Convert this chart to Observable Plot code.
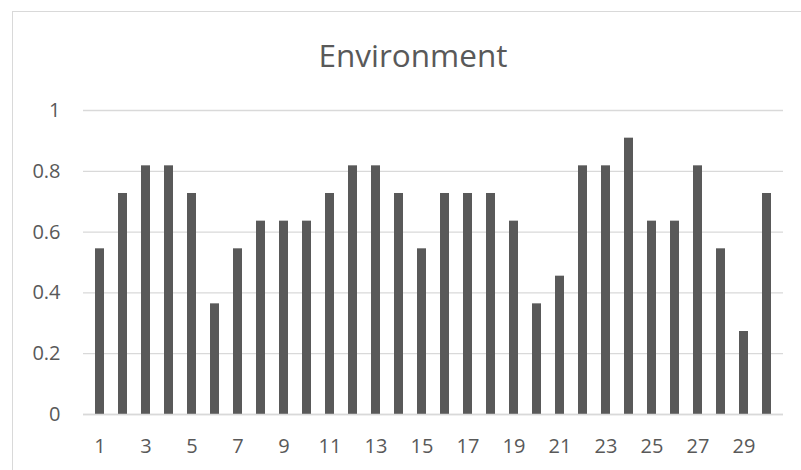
<!DOCTYPE html>
<html>
<head>
<meta charset="utf-8">
<script src="https://cdn.jsdelivr.net/npm/d3@7"></script>
<script src="https://cdn.jsdelivr.net/npm/@observablehq/plot@0.6"></script>
<style>
  html, body { margin: 0; padding: 0; background: #fff; overflow: hidden; }
  #wrap { position: relative; width: 801px; height: 470px; }
  #frame { position: absolute; left: 12px; top: 11px; width: 820px; height: 480px; border: 1.5px solid #d9d9d9; box-sizing: border-box; }
  #title { position: absolute; left: 13px; width: 800px; top: 33px; text-align: center; font-family: "Open Sans", sans-serif; font-size: 31.5px; color: #595959; }
  #chart { position: absolute; left: 0; top: 0; }
</style>
</head>
<body>
<div id="wrap">
  <div id="frame"></div>
  <div id="title">Environment</div>
  <div id="chart"></div>
</div>
<script>
const categories = d3.range(1, 31);
const values = [0.545, 0.727, 0.818, 0.818, 0.727, 0.364, 0.545, 0.636, 0.636, 0.636,
                0.727, 0.818, 0.818, 0.727, 0.545, 0.727, 0.727, 0.727, 0.636, 0.364,
                0.455, 0.818, 0.818, 0.909, 0.636, 0.636, 0.818, 0.545, 0.273, 0.727];
const yTicks = [0, 0.2, 0.4, 0.6, 0.8, 1];
const xTickLabels = categories.filter(d => d % 2 === 1);

const data = categories.map((c, i) => ({cat: c, value: values[i]}));

const plot = Plot.plot({
  width: 801,
  height: 470,
  marginLeft: 83,
  marginRight: 18,
  marginTop: 110,
  marginBottom: 56,
  style: {fontFamily: "'Open Sans', sans-serif", color: "#595959", background: "transparent"},
  x: {type: "band", domain: categories, paddingInner: 0.63, paddingOuter: 0.315, label: null, axis: null},
  y: {domain: [0, 1], label: null, axis: null},
  marks: [
    Plot.gridY(yTicks, {stroke: "#d9d9d9", strokeOpacity: 1, strokeWidth: 1.3}),
    Plot.barY(data, {x: "cat", y: "value", fill: "#595959"}),
    Plot.ruleY([0], {stroke: "#d9d9d9", strokeWidth: 1.3}),
    Plot.text(yTicks, {y: d => d, text: d => String(d), frameAnchor: "left", textAnchor: "end", dx: -23, fontSize: 20, fill: "#595959"}),
    Plot.text(xTickLabels, {x: d => d, text: d => String(d), frameAnchor: "bottom", lineAnchor: "middle", dy: 32, fontSize: 20, fill: "#595959"})
  ]
});
document.getElementById("chart").appendChild(plot);
</script>
</body>
</html>
